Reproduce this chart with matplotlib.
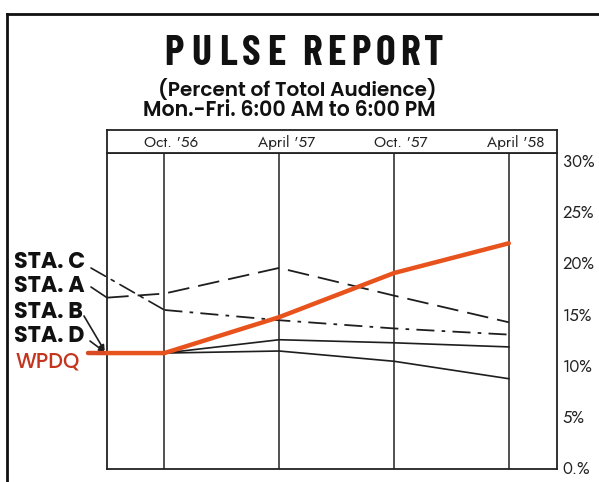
import matplotlib
matplotlib.use("Agg")
import matplotlib.pyplot as plt
from matplotlib.lines import Line2D

# ---- data ----
periods = ["Oct. '56", "April '57", "Oct. '57", "April '58"]
period_x = [1, 2, 3, 4]
start_x = 0.5            # left frame (start of series)
ytick_vals = [0, 5, 10, 15, 20, 25, 30]
ytick_labels = ["0.%", "5%", "10%", "15%", "20%", "25%", "30%"]

wpdq = [11.2, 11.2, 14.7, 19.0, 21.9]
sta_a = [16.6, 17.0, 19.5, 16.8, 14.2]
sta_c = [15.4, 14.4, 13.6, 13.0]          # from Oct '56 on (leader goes to first point)
sta_b = [11.2, 11.2, 12.5, 12.2, 11.8]
sta_d = [11.2, 11.2, 11.4, 10.4, 8.7]
labels = ["STA. C", "STA. A", "STA. B", "STA. D", "WPDQ"]
title_words = ["PULSE", "REPORT"]

FUT = ["Jost", "DejaVu Sans"]
BOLDF = ["Poppins", "DejaVu Sans"]
COND = ["Barlow Condensed", "DejaVu Sans"]

W, H = 599, 482
fig = plt.figure(figsize=(W / 100, H / 100), dpi=100)
fig.patch.set_facecolor("white")

def fx(px):
    return px / W

def fy(py):
    return 1 - py / H

# axes geometry in pixels
L, R, T, B = 107, 557, 153, 469
ax = fig.add_axes([fx(L), fy(B), fx(R - L), fy(T) - fy(B)])
xmin, xmax = 0.5, 4.42
ax.set_xlim(xmin, xmax)
ax.set_ylim(-0.1, 30.7)
ax.set_xticks([])
ax.yaxis.tick_right()
ax.set_yticks(ytick_vals)
ax.set_yticklabels(ytick_labels, fontsize=12, color="#222222", family=FUT)
ax.tick_params(axis="y", length=0, pad=4)
for s in ax.spines.values():
    s.set_color("#222222")
    s.set_linewidth(1.3)

for x in period_x:
    ax.axvline(x, color="#222222", lw=1.1)

# header box
hax = fig.add_axes([fx(L), fy(T), fx(R - L), fy(130) - fy(T)])
hax.set_xlim(xmin, xmax)
hax.set_ylim(0, 1)
hax.set_xticks([])
hax.set_yticks([])
for s in hax.spines.values():
    s.set_color("#222222")
    s.set_linewidth(1.3)
for x, p in zip(period_x, periods):
    hax.text(x + 0.06, 0.45, p, ha="center", va="center", fontsize=11,
             color="#222222", family=FUT)

dark = "#1e1e1e"
xs = [start_x] + period_x
ax.plot(xs, sta_d, color=dark, lw=1.2, clip_on=False)
ax.plot(xs, sta_b, color=dark, lw=1.2, clip_on=False)
ax.plot(xs, sta_a, color=dark, lw=1.3, dashes=(12, 5), clip_on=False)
ax.plot(period_x, sta_c, color=dark, lw=1.3, dashes=(10, 4, 2, 4), clip_on=False)
ax.plot(xs, wpdq, color="#e8521c", lw=3.2, clip_on=False, solid_capstyle="round", zorder=5)

# labels (figure pixel positions)
lab_px = {"STA. C": (14, 263), "STA. A": (14, 287), "STA. B": (14, 312), "STA. D": (14, 337), "WPDQ": (16, 363)}
for lab, (px, py) in lab_px.items():
    if lab == "WPDQ":
        fig.text(fx(px), fy(py), lab, fontsize=15, fontweight="medium", color="#c4351f",
                 ha="left", va="center", family=BOLDF)
    else:
        fig.text(fx(px), fy(py), lab, fontsize=16, fontweight="bold", color="#111111",
                 ha="left", va="center", family=BOLDF)

# leader lines
def leader(p_from_px, data_pt, arrow=False, dashes=None, color=dark, lw=1.2):
    ax.annotate("", xy=data_pt, xycoords="data",
                xytext=(p_from_px[0], H - p_from_px[1]), textcoords="figure pixels",
                arrowprops=dict(arrowstyle="-|>" if arrow else "-", color=color, lw=lw,
                                shrinkA=0, shrinkB=0, mutation_scale=8,
                                linestyle=dashes if dashes else "-"),
                annotation_clip=False)

leader((91, 268), (1, sta_c[0]), dashes=(0, (10, 4, 2, 4)))
leader((91, 287), (start_x, sta_a[0]))
leader((84, 316), (start_x - 0.02, sta_b[0] + 0.2), arrow=True)
leader((90, 341), (start_x - 0.02, sta_d[0] + 0.1), arrow=True)
ax.annotate("", xy=(start_x, wpdq[0]), xycoords="data",
            xytext=(88, H - 353), textcoords="figure pixels",
            arrowprops=dict(arrowstyle="-", color="#d84a22", lw=3.2, shrinkA=0, shrinkB=0),
            annotation_clip=False)

# title: letter-spaced, each letter placed at measured centres
title_centres = [[174, 201, 228, 251, 276], [312, 336, 361, 385, 410, 434]]
for word, cents in zip(title_words, title_centres):
    for ch, cx in zip(word, cents):
        fig.text(fx(cx), fy(65), ch, ha="center", va="baseline", fontsize=30,
                 fontweight="bold", family=COND, color="#111111")

fig.text(fx(297), fy(90), "(Percent of Totol Audience)", ha="center", va="center",
         fontsize=14.5, fontweight="semibold", color="#111111", family=BOLDF)
fig.text(fx(289), fy(111), "Mon.-Fri. 6:00 AM to 6:00 PM", ha="center", va="center",
         fontsize=14.8, fontweight="semibold", color="#111111", family=BOLDF)

# outer frame
fig.add_artist(Line2D([fx(7), fx(7)], [fy(14), 0], transform=fig.transFigure, color="#111111", lw=2))
fig.add_artist(Line2D([fx(7), 1], [fy(14), fy(14)], transform=fig.transFigure, color="#111111", lw=2))

fig.savefig("out.png", dpi=100, facecolor="white")
